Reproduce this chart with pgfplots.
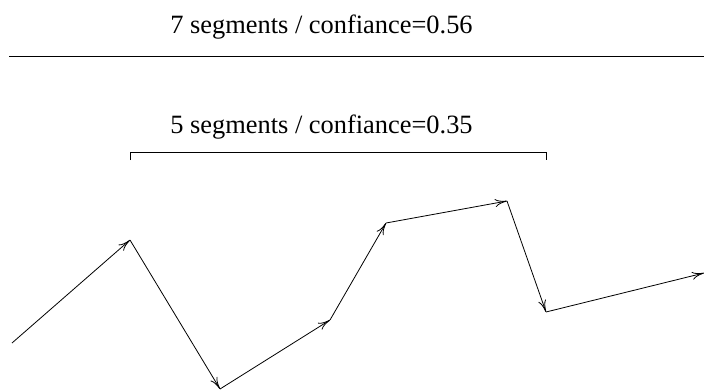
\documentclass[border=0pt]{standalone}
\usepackage{fontspec}
\setmainfont{Liberation Serif}
\usepackage{pgfplots}
\pgfplotsset{compat=1.18}
\usepackage{pgfplotstable}
\usetikzlibrary{arrows.meta}

% segments: start point and displacement (pixel coordinates, y downwards)
\pgfplotstableread{
x   y   u    v
12  343 118  -103
130 240 90   149
220 389 110  -69
330 320 56   -97
386 223 121  -22
507 201 39   111
546 312 158  -39
}\segs

\begin{document}
\begin{tikzpicture}
\begin{axis}[
    width=704bp, height=390bp, scale only axis,
    xmin=0, xmax=704, ymin=0, ymax=390, y dir=reverse,
    hide axis, clip=false,
]
% top divider
\addplot[black, line width=1.1bp] coordinates {(9,56.5) (704,56.5)};
% bracket
\addplot[black, line width=0.8bp] coordinates {(130,160) (130,152) (546,152) (546,160)};
% arrow chain
\addplot[black, line width=0.8bp,
    quiver={u=\thisrow{u}, v=\thisrow{v},
        every arrow/.append style={-{To[length=12bp,width=8bp,line width=0.8bp]}}}]
    table[x=x, y=y] {\segs};
\node[anchor=base, font=\fontsize{26.5}{30}\selectfont] at (axis cs:321.5,33) {7 segments / confiance=0.56};
\node[anchor=base, font=\fontsize{26.5}{30}\selectfont] at (axis cs:321.5,133) {5 segments / confiance=0.35};
\end{axis}
\pgfresetboundingbox
\path[use as bounding box] (current axis.south west) rectangle (current axis.north east);
\end{tikzpicture}
\end{document}
